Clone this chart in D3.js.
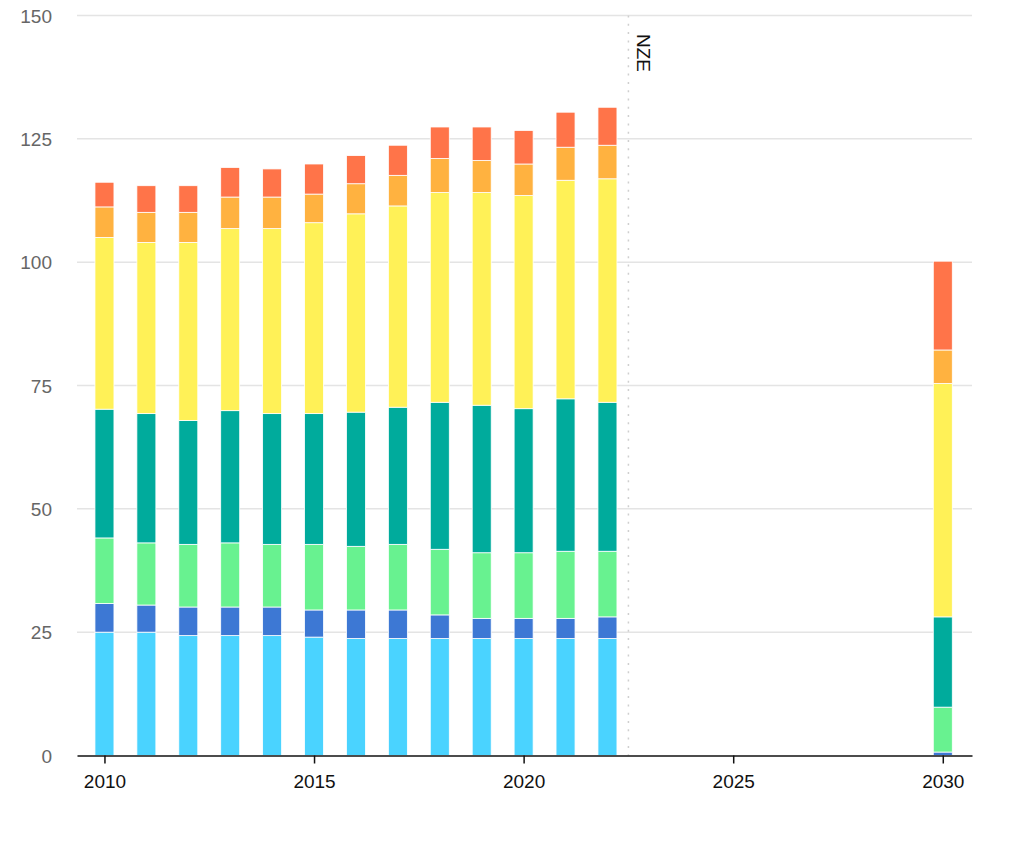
<!DOCTYPE html>
<html>
<head>
<meta charset="utf-8">
<script src="https://cdn.jsdelivr.net/npm/d3@7"></script>
<style>
  body { margin: 0; background: #fff; }
  text { font-family: "Liberation Sans", Arial, sans-serif; }
</style>
</head>
<body>
<div id="chart"></div>
<script>
const years = [2010, 2011, 2012, 2013, 2014, 2015, 2016, 2017, 2018, 2019, 2020, 2021, 2022, 2030];
const seriesKeys = ['s1', 's2', 's3', 's4', 's5', 's6', 's7'];
const s1 = [25.0, 25.0, 24.3, 24.3, 24.3, 24.0, 23.7, 23.7, 23.7, 23.7, 23.7, 23.7, 23.7, 0];
const s2 = [5.8, 5.5, 5.8, 5.8, 5.8, 5.5, 5.8, 5.8, 4.8, 4.1, 4.1, 4.1, 4.4, 0.7];
const s3 = [13.3, 12.6, 12.7, 13.0, 12.7, 13.3, 12.9, 13.3, 13.3, 13.3, 13.3, 13.6, 13.3, 9.1];
const s4 = [26.1, 26.2, 25.1, 26.8, 26.5, 26.5, 27.2, 27.8, 29.8, 29.9, 29.2, 30.9, 30.2, 18.3];
const s5 = [34.8, 34.7, 36.1, 36.9, 37.5, 38.7, 40.2, 40.8, 42.5, 43.1, 43.2, 44.3, 45.3, 47.3];
const s6 = [6.2, 6.1, 6.1, 6.4, 6.4, 5.8, 6.1, 6.2, 6.9, 6.5, 6.4, 6.7, 6.8, 6.8];
const s7 = [5.0, 5.4, 5.4, 6.0, 5.7, 6.1, 5.7, 6.1, 6.4, 6.8, 6.8, 7.1, 7.7, 18.0];
const colors = ['#4ad3ff', '#3d78d4', '#68f290', '#00ab9c', '#fff157', '#ffb240', '#ff7449'];
const yTicks = [0, 25, 50, 75, 100, 125, 150];
const xTicks = [2010, 2015, 2020, 2025, 2030];
const marker = { year: 2022.5, label: 'NZE' };

const W = 1011, H = 843;
const svg = d3.select('#chart').append('svg')
  .attr('width', W)
  .attr('height', H);

const x = d3.scaleLinear().domain([2009.345, 2030.697]).range([77, 972]);
const y = d3.scaleLinear().domain([0, 150]).range([755.5, 15.5]);

const rows = years.map((yr, i) => {
  const r = { year: yr };
  [s1, s2, s3, s4, s5, s6, s7].forEach((s, k) => r[seriesKeys[k]] = s[i]);
  return r;
});
const stacked = d3.stack().keys(seriesKeys)(rows);

// gridlines
svg.append('g')
  .selectAll('line')
  .data(yTicks.filter(d => d > 0))
  .join('line')
  .attr('x1', 77).attr('x2', 972)
  .attr('y1', d => y(d)).attr('y2', d => y(d))
  .attr('stroke', '#e4e4e4')
  .attr('stroke-width', 1.5);

// y labels
svg.append('g')
  .selectAll('text')
  .data(yTicks)
  .join('text')
  .attr('x', 52)
  .attr('y', d => y(d) + 7)
  .attr('text-anchor', 'end')
  .attr('fill', '#666')
  .attr('font-size', 19)
  .text(d => d);

// bars
const barW = 19;
svg.append('g')
  .selectAll('g')
  .data(stacked)
  .join('g')
  .attr('fill', (d, i) => colors[i])
  .selectAll('rect')
  .data(d => d.filter(p => p[1] - p[0] > 0))
  .join('rect')
  .attr('x', d => x(d.data.year) - barW / 2)
  .attr('width', barW)
  .attr('y', d => y(d[1]))
  .attr('height', d => y(d[0]) - y(d[1]))
  .attr('stroke', '#fff')
  .attr('stroke-width', 0.8);

// NZE marker
svg.append('line')
  .attr('x1', x(marker.year)).attr('x2', x(marker.year))
  .attr('y1', y(150)).attr('y2', y(0))
  .attr('stroke', '#cfcfcf')
  .attr('stroke-width', 1.5)
  .attr('stroke-dasharray', '2,6.3');
svg.append('text')
  .attr('transform', `translate(${x(marker.year) + 9},34) rotate(90)`)
  .attr('font-size', 19)
  .attr('fill', '#111')
  .text(marker.label);

// x axis
const xAxis = d3.axisBottom(x)
  .tickValues(xTicks)
  .tickFormat(d3.format('d'))
  .tickSize(8)
  .tickSizeOuter(0);
const gx = svg.append('g')
  .attr('transform', `translate(0,${y(0)})`)
  .call(xAxis);
gx.select('.domain').attr('stroke', '#111').attr('stroke-width', 1.5);
gx.selectAll('.tick line').attr('stroke', '#111').attr('stroke-width', 1.5);
gx.selectAll('.tick text')
  .attr('font-family', '"Liberation Sans", Arial, sans-serif')
  .attr('font-size', 19)
  .attr('fill', '#111')
  .attr('dy', 0)
  .attr('y', 32);
</script>
</body>
</html>
